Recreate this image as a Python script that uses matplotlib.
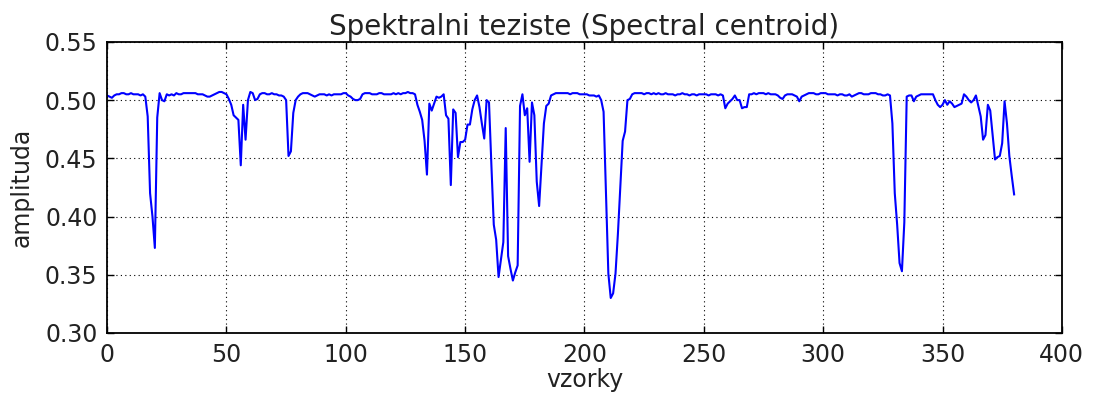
import matplotlib
matplotlib.use("Agg")
import matplotlib.pyplot as plt
import numpy as np

# spectral centroid per frame
centroid = [
    0.504, 0.503, 0.502, 0.504, 0.505, 0.505, 0.506, 0.506, 0.505, 0.505,
    0.506, 0.505, 0.505, 0.505, 0.504, 0.505, 0.503, 0.486, 0.420, 0.400,
    0.373, 0.485, 0.506, 0.500, 0.499, 0.505, 0.504, 0.505, 0.504, 0.506,
    0.505, 0.505, 0.506, 0.506, 0.506, 0.506, 0.506, 0.506, 0.505, 0.505,
    0.505, 0.504, 0.503, 0.503, 0.504, 0.505, 0.506, 0.507, 0.507, 0.506,
    0.505, 0.501, 0.496, 0.487, 0.485, 0.483, 0.444, 0.496, 0.466, 0.500,
    0.507, 0.506, 0.500, 0.501, 0.505, 0.506, 0.506, 0.505, 0.505, 0.506,
    0.505, 0.505, 0.504, 0.504, 0.503, 0.500, 0.452, 0.456, 0.489, 0.500,
    0.503, 0.505, 0.506, 0.506, 0.506, 0.505, 0.504, 0.503, 0.504, 0.505,
    0.505, 0.505, 0.504, 0.505, 0.504, 0.505, 0.505, 0.505, 0.505, 0.506,
    0.506, 0.504, 0.503, 0.501, 0.500, 0.500, 0.501, 0.505, 0.506, 0.506,
    0.506, 0.505, 0.505, 0.505, 0.506, 0.506, 0.505, 0.505, 0.505, 0.505,
    0.506, 0.505, 0.506, 0.505, 0.506, 0.506, 0.507, 0.506, 0.506, 0.505,
    0.496, 0.490, 0.483, 0.465, 0.436, 0.497, 0.491, 0.497, 0.503, 0.502,
    0.503, 0.505, 0.487, 0.484, 0.427, 0.492, 0.489, 0.451, 0.464, 0.464,
    0.466, 0.479, 0.479, 0.492, 0.500, 0.504, 0.494, 0.480, 0.467, 0.500,
    0.498, 0.444, 0.393, 0.380, 0.348, 0.363, 0.378, 0.476, 0.366, 0.355,
    0.345, 0.352, 0.358, 0.495, 0.505, 0.487, 0.493, 0.447, 0.498, 0.487,
    0.430, 0.409, 0.445, 0.480, 0.495, 0.497, 0.504, 0.505, 0.506, 0.506,
    0.506, 0.506, 0.506, 0.506, 0.505, 0.506, 0.506, 0.506, 0.505, 0.505,
    0.505, 0.505, 0.504, 0.504, 0.504, 0.503, 0.504, 0.500, 0.490, 0.420,
    0.351, 0.330, 0.334, 0.351, 0.385, 0.425, 0.465, 0.473, 0.500, 0.501,
    0.505, 0.506, 0.506, 0.506, 0.506, 0.505, 0.506, 0.506, 0.505, 0.506,
    0.505, 0.506, 0.505, 0.505, 0.506, 0.505, 0.505, 0.505, 0.504, 0.505,
    0.505, 0.506, 0.505, 0.505, 0.504, 0.505, 0.505, 0.504, 0.505, 0.505,
    0.505, 0.505, 0.504, 0.505, 0.505, 0.505, 0.504, 0.505, 0.504, 0.493,
    0.497, 0.499, 0.501, 0.504, 0.500, 0.500, 0.493, 0.494, 0.494, 0.505,
    0.505, 0.506, 0.505, 0.506, 0.506, 0.506, 0.505, 0.506, 0.505, 0.505,
    0.505, 0.504, 0.502, 0.501, 0.504, 0.505, 0.505, 0.505, 0.504, 0.503,
    0.499, 0.503, 0.504, 0.505, 0.506, 0.506, 0.506, 0.505, 0.505, 0.506,
    0.506, 0.506, 0.505, 0.505, 0.505, 0.505, 0.504, 0.505, 0.505, 0.504,
    0.504, 0.505, 0.503, 0.504, 0.505, 0.506, 0.506, 0.505, 0.505, 0.505,
    0.506, 0.506, 0.506, 0.505, 0.505, 0.504, 0.504, 0.505, 0.504, 0.480,
    0.420, 0.393, 0.360, 0.353, 0.395, 0.503, 0.504, 0.504, 0.499, 0.503,
    0.504, 0.505, 0.505, 0.505, 0.505, 0.505, 0.505, 0.500, 0.496, 0.494,
    0.496, 0.500, 0.496, 0.499, 0.497, 0.494, 0.495, 0.496, 0.497, 0.505,
    0.503, 0.500, 0.498, 0.500, 0.504, 0.495, 0.486, 0.466, 0.470, 0.496,
    0.491, 0.470, 0.449, 0.451, 0.452, 0.463, 0.499, 0.480, 0.452, 0.435,
    0.419,
]
samples = np.arange(len(centroid))

x_ticks = [0, 50, 100, 150, 200, 250, 300, 350, 400]
y_ticks = [0.30, 0.35, 0.40, 0.45, 0.50, 0.55]

plt.rcParams["font.family"] = "DejaVu Sans"

fig = plt.figure(figsize=(10.93, 4.05), dpi=100)
ax = fig.add_axes([0.098, 0.178, 0.8735, 0.7185])

ax.plot(samples, centroid, color="b", lw=1.5)

ax.set_xlim(0, 400)
ax.set_ylim(0.30, 0.55)
ax.set_xticks(x_ticks)
ax.set_yticks(y_ticks)
ax.set_yticklabels([f"{v:.2f}" for v in y_ticks])
ax.tick_params(direction="in", top=True, right=True, length=5, width=1,
               labelsize=17, pad=7, labelcolor="#222222")
ax.grid(True, color="k", linestyle=(0, (1, 3)), linewidth=0.8)
for sp in ax.spines.values():
    sp.set_linewidth(1.3)

ax.set_title("Spektralni teziste (Spectral centroid)", fontsize=20, pad=5,
             color="#222222")
ax.set_xlabel("vzorky", fontsize=17, labelpad=1, color="#222222")
ax.set_ylabel("amplituda", fontsize=17, labelpad=8, color="#222222")

fig.savefig("out.png", dpi=100)
